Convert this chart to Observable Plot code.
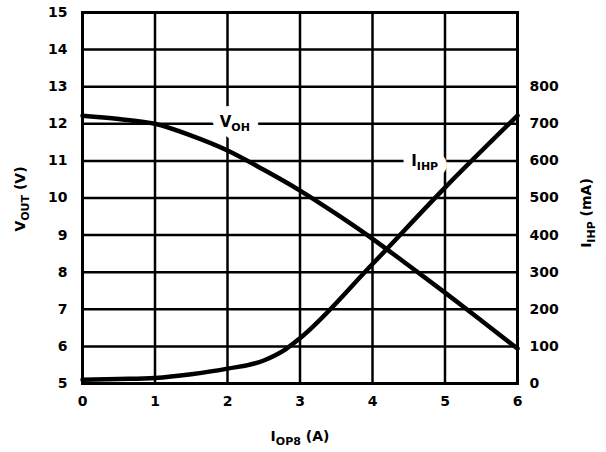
<!DOCTYPE html>
<html><head><meta charset="utf-8">
<script src="https://cdn.jsdelivr.net/npm/d3@7"></script>
<script src="https://cdn.jsdelivr.net/npm/@observablehq/plot@0.6"></script>
<style>body{margin:0;background:#fff} svg{font-family:"DejaVu Sans",Arial,sans-serif}</style>
</head><body><div id="chart"></div>
<script>
// Tick labels
const xTicks = [0, 1, 2, 3, 4, 5, 6];
const vTicks = [5, 6, 7, 8, 9, 10, 11, 12, 13, 14, 15];
const mATicks = [0, 100, 200, 300, 400, 500, 600, 700, 800];

// V_OH (V) vs I_OP8 (A)
const vohI = [0, 0.5, 1, 1.5, 2, 2.5, 3, 3.5, 4, 4.5, 5, 5.5, 6];
const vohV = [12.22, 12.13, 12.0, 11.68, 11.28, 10.76, 10.2, 9.57, 8.9, 8.18, 7.45, 6.7, 5.94];

// I_IHP (mA) vs I_OP8 (A)
const ihpI = [0, 0.5, 1, 1.5, 2, 2.5, 2.8, 3, 4, 5, 6];
const ihpMA = [10, 12, 15, 25, 40, 62, 92, 122, 322, 528, 722];

// Curve labels
const labelText = ["V|OH", "I|IHP"];
const labelI = [2.1, 4.72];
const labelV = [12.05, 10.98];

// right axis (mA) shares the left scale: 0 mA at 5 V, 100 mA per volt
const toV = mA => 5 + mA / 100;

const vohData = vohI.map((i, k) => ({i, v: vohV[k]}));
const ihpData = ihpI.map((i, k) => ({i, mA: ihpMA[k]}));
const labels = labelText.map((t, k) => ({t, i: labelI[k], v: labelV[k]}));

const font = "DejaVu Sans, Arial, sans-serif";
const plot = Plot.plot({
  width: 606, height: 452,
  marginLeft: 82, marginRight: 89, marginTop: 12, marginBottom: 69,
  style: {fontFamily: font, fontSize: "14px", fontWeight: "bold", color: "black", background: "white"},
  x: {domain: [0, 6]},
  y: {domain: [5, 15]},
  marks: [
    Plot.gridX(xTicks, {stroke: "black", strokeOpacity: 1, strokeWidth: 2.5}),
    Plot.gridY(vTicks, {stroke: "black", strokeOpacity: 1, strokeWidth: 2.5}),
    Plot.axisX(xTicks, {tickSize: 0, tickPadding: 13, label: null, fontWeight: "bold", fontSize: 14}),
    Plot.axisY(vTicks, {anchor: "left", tickSize: 0, tickPadding: 15, label: null, fontWeight: "bold", fontSize: 14}),
    Plot.axisY(mATicks.map(toV), {anchor: "right", tickSize: 0, tickPadding: 12, label: null, fontWeight: "bold", fontSize: 14,
      tickFormat: v => String(Math.round((v - 5) * 100))}),
    Plot.line(vohData, {x: "i", y: "v", stroke: "black", strokeWidth: 4.5, curve: "monotone-x"}),
    Plot.line(ihpData, {x: "i", y: d => toV(d.mA), stroke: "black", strokeWidth: 4.5, curve: "monotone-x"}),
    Plot.frame({stroke: "black", strokeWidth: 3}),
    Plot.text(labels, {x: "i", y: "v", text: "t", fill: "white", stroke: "white", strokeWidth: 18, fontSize: 15, fontWeight: "bold"}),
    Plot.text(labels, {x: "i", y: "v", text: "t", fill: "black", fontSize: 15, fontWeight: "bold"})
  ]
});

// Render subscripts in curve labels
d3.select(plot).selectAll("g[aria-label=text] text").each(function () {
  const s = d3.select(this);
  const [main, sub] = s.text().split("|");
  s.text("");
  s.append("tspan").text(main);
  s.append("tspan").attr("dy", 4).attr("font-size", 11).text(sub);
});

const svg = d3.select(plot);
function addLabel(x, y, rot, main, sub, rest) {
  const t = svg.append("text")
    .attr("transform", `translate(${x},${y}) rotate(${rot})`)
    .attr("text-anchor", "middle")
    .attr("font-family", font)
    .attr("font-size", 14).attr("font-weight", "bold").attr("fill", "black");
  t.append("tspan").text(main);
  t.append("tspan").attr("dy", 4).attr("font-size", 11).text(sub);
  t.append("tspan").attr("dy", -4).text(rest);
}
addLabel(300, 441, 0, "I", "OP8", " (A)");
addLabel(25, 199, -90, "V", "OUT", " (V)");
addLabel(591, 213, -90, "I", "IHP", " (mA)");

document.getElementById("chart").appendChild(plot);
</script>
</body></html>
